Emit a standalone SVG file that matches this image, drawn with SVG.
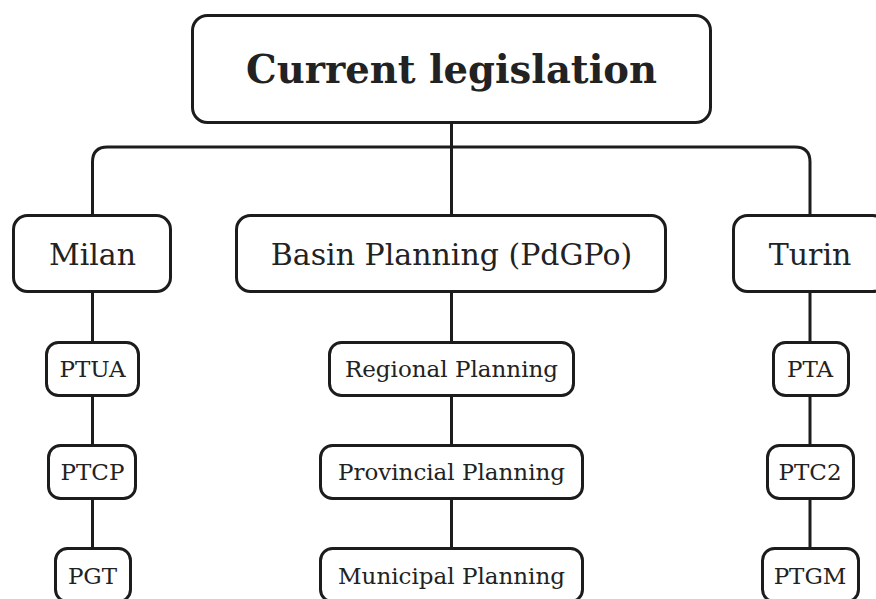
<svg xmlns="http://www.w3.org/2000/svg" width="876" height="599" viewBox="0 0 876 599">
<style>
.box{fill:#fff;stroke:#1c1c1c;stroke-width:3}
.ln{fill:none;stroke:#1c1c1c;stroke-width:3}
text{font-family:"DejaVu Serif","Liberation Serif",serif;fill:#222;text-anchor:middle}
.t1{font-size:38.5px;font-weight:bold}
.t2{font-size:30px}
.t3{font-size:23px}
</style>
<rect width="876" height="599" fill="#fff"/>
<g id="connectors">
<path class="ln" d="M451.5 123 V215"/>
<path class="ln" d="M92.5 215 V162 Q92.5 147 107.5 147 H795 Q810 147 810 162 V215"/>
<path class="ln" d="M92.5 292 V549"/>
<path class="ln" d="M451.5 292 V549"/>
<path class="ln" d="M810 292 V549"/>
</g>
<g id="current-legislation"><rect class="box" x="192.5" y="15.5" width="518" height="107" rx="15"/><text class="t1" x="451.5" y="83">Current legislation</text></g>
<g id="milan"><rect class="box" x="13.5" y="215.5" width="157" height="76" rx="14"/><text class="t2" x="92.5" y="265">Milan</text></g>
<g id="basin"><rect class="box" x="236.5" y="215.5" width="429" height="76" rx="14"/><text class="t2" x="451.5" y="265">Basin Planning (PdGPo)</text></g>
<g id="turin"><rect class="box" x="733.5" y="215.5" width="153" height="76" rx="14"/><text class="t2" x="810" y="265">Turin</text></g>
<g id="ptua"><rect class="box" x="46.5" y="342.5" width="92" height="53" rx="12"/><text class="t3" x="92.5" y="377">PTUA</text></g>
<g id="ptcp"><rect class="box" x="48.5" y="445.5" width="87" height="53" rx="12"/><text class="t3" x="92.5" y="480">PTCP</text></g>
<g id="pgt"><rect class="box" x="55.5" y="548.5" width="75" height="53" rx="12"/><text class="t3" x="92.5" y="584">PGT</text></g>
<g id="regional"><rect class="box" x="329.5" y="342.5" width="244" height="53" rx="12"/><text class="t3" x="451.5" y="377">Regional Planning</text></g>
<g id="provincial"><rect class="box" x="320.5" y="445.5" width="262" height="53" rx="12"/><text class="t3" x="451.5" y="480">Provincial Planning</text></g>
<g id="municipal"><rect class="box" x="320.5" y="548.5" width="262" height="53" rx="12"/><text class="t3" x="451.5" y="584">Municipal Planning</text></g>
<g id="pta"><rect class="box" x="773.5" y="342.5" width="75" height="53" rx="12"/><text class="t3" x="810" y="377">PTA</text></g>
<g id="ptc2"><rect class="box" x="767.5" y="445.5" width="86" height="53" rx="12"/><text class="t3" x="810" y="480">PTC2</text></g>
<g id="ptgm"><rect class="box" x="762.5" y="548.5" width="96" height="53" rx="12"/><text class="t3" x="810" y="584">PTGM</text></g>
</svg>
